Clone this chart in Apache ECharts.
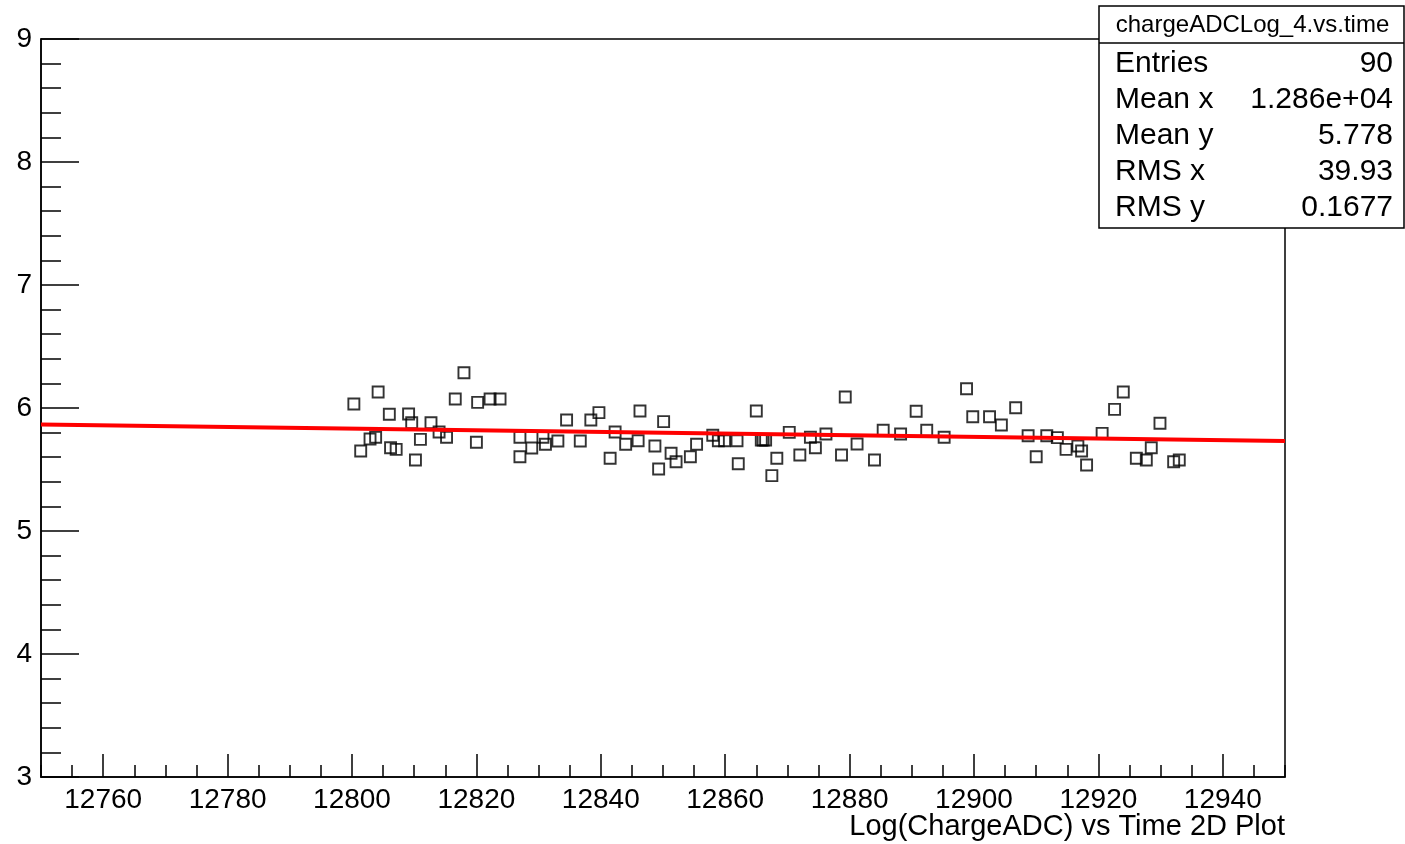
<!DOCTYPE html>
<html><head><meta charset="utf-8">
<script src="https://cdn.jsdelivr.net/npm/echarts@6/dist/echarts.min.js"></script>
<style>html,body{margin:0;padding:0;background:#fff}#c{width:1405px;height:844px}</style>
</head><body><div id="c"></div>
<script>
// Scatter data (time, log charge)
const timeX = [12800.3,12804.2,12806.0,12809.1,12809.6,12818.0,12816.6,12820.2,12822.2,12823.8,
  12812.7,12814.0,12815.2,12802.9,12803.8,12801.4,12806.2,12807.1,12811.0,12810.2,
  12820.0,12827.0,12827.0,12828.9,12830.7,12831.1,12833.1,12834.5,12836.7,12838.4,
  12839.7,12841.5,12842.3,12844.0,12846.0,12846.3,12848.7,12850.1,12851.3,12852.1,
  12849.3,12854.4,12855.4,12858.0,12858.9,12859.9,12861.9,12862.1,12865.0,12865.8,
  12866.5,12866.1,12868.3,12867.5,12870.3,12872.0,12873.7,12874.5,12876.2,12879.3,
  12878.7,12881.2,12884.0,12885.4,12888.2,12890.7,12892.4,12895.2,12898.8,12899.8,
  12902.5,12904.4,12906.7,12908.7,12910.0,12911.7,12913.4,12914.8,12916.7,12917.3,
  12918.1,12920.6,12922.6,12924.0,12926.1,12927.7,12928.5,12929.9,12932.1,12933.0];
const chargeY = [6.033,6.130,5.949,5.951,5.880,6.287,6.073,6.046,6.073,6.073,
  5.880,5.805,5.762,5.748,5.762,5.650,5.677,5.664,5.745,5.577,
  5.721,5.762,5.604,5.675,5.762,5.705,5.732,5.902,5.732,5.902,
  5.962,5.591,5.805,5.705,5.734,5.976,5.691,5.889,5.632,5.563,
  5.504,5.604,5.705,5.778,5.734,5.734,5.734,5.547,5.976,5.740,
  5.740,5.740,5.591,5.450,5.802,5.618,5.762,5.677,5.789,6.089,
  5.618,5.707,5.577,5.819,5.789,5.973,5.819,5.762,6.157,5.929,
  5.929,5.862,6.002,5.775,5.604,5.775,5.759,5.664,5.691,5.650,
  5.537,5.794,5.989,6.130,5.591,5.577,5.677,5.876,5.563,5.577];
// Fit line end points
const fitX = [12750, 12950];
const fitY = [5.865, 5.732];
// Axis ticks
const xMajorTicks = [12760,12780,12800,12820,12840,12860,12880,12900,12920,12940];
const xRange = [12750, 12950];
const yRange = [3, 9];
// Stats box
const statsTitle = 'chargeADCLog_4.vs.time';
const statsNames = ['Entries','Mean x','Mean y','RMS x','RMS y'];
const statsValues = ['90','1.286e+04','5.778','39.93','0.1677'];
const xTitle = 'Log(ChargeADC) vs Time 2D Plot';

const FONT = '"Liberation Sans", Arial, Helvetica, sans-serif';
const chart = echarts.init(document.getElementById('c'), null, {renderer:'canvas'});

const graphics = [];
const bx = 1099, by = 6, bw = 305, bh = 222, titleH = 37;
graphics.push({type:'rect', shape:{x:bx, y:by, width:bw, height:bh}, style:{fill:'#fff', stroke:'#000', lineWidth:1.5}, z:100});
graphics.push({type:'line', shape:{x1:bx, y1:by+titleH, x2:bx+bw, y2:by+titleH}, style:{stroke:'#000', lineWidth:1.5}, z:101});
graphics.push({type:'text', x:bx+bw/2+1, y:by+titleH/2+1, style:{text:statsTitle, font:'24px '+FONT, fill:'#000', textAlign:'center', textVerticalAlign:'middle'}, z:101});
statsNames.forEach((n,i)=>{
  const cy = 64 + 36*i;
  graphics.push({type:'text', x:bx+16, y:cy, style:{text:n, font:'30px '+FONT, fill:'#000', textAlign:'left', textVerticalAlign:'middle'}, z:101});
  graphics.push({type:'text', x:bx+bw-11, y:cy, style:{text:statsValues[i], font:'30px '+FONT, fill:'#000', textAlign:'right', textVerticalAlign:'middle'}, z:101});
});
graphics.push({type:'text', right:120, top:812, style:{text:xTitle, font:'29px '+FONT, fill:'#000'}, z:101});

chart.setOption({
  animation:false,
  backgroundColor:'#fff',
  grid:{left:41, top:39, right:120, bottom:67, show:true, borderColor:'#000', borderWidth:1.5, backgroundColor:'transparent'},
  xAxis:[{
    type:'value', min:xRange[0], max:xRange[1], position:'bottom',
    axisLine:{show:true, lineStyle:{color:'#000', width:1.5}},
    axisTick:{show:true, inside:true, length:23, customValues:xMajorTicks, lineStyle:{color:'#000', width:1.5}},
    axisLabel:{show:true, customValues:xMajorTicks, formatter:v=>String(v), color:'#000', fontSize:28, fontFamily:FONT, margin:9},
    splitLine:{show:false}
  },{
    type:'value', min:xRange[0], max:xRange[1], interval:5, position:'bottom', offset:0,
    axisLine:{show:false},
    axisTick:{show:true, inside:true, length:12, lineStyle:{color:'#000', width:1.5}},
    axisLabel:{show:false},
    splitLine:{show:false}
  }],
  yAxis:{
    type:'value', min:yRange[0], max:yRange[1], interval:1,
    axisLine:{show:true, lineStyle:{color:'#000', width:1.5}},
    axisTick:{show:true, inside:true, length:38, lineStyle:{color:'#000', width:1.5}},
    minorTick:{show:true, splitNumber:5, length:20, lineStyle:{color:'#000', width:1.5}},
    axisLabel:{color:'#000', fontSize:28, fontFamily:FONT, margin:9},
    splitLine:{show:false}, minorSplitLine:{show:false}
  },
  series:[{
    type:'scatter', xAxisIndex:0,
    data: timeX.map((x,i)=>[x, chargeY[i]]),
    symbol:'rect', symbolSize:11,
    itemStyle:{color:'rgba(0,0,0,0)', borderColor:'#000', borderWidth:1.9},
    z:2
  },{
    type:'line', xAxisIndex:0,
    data: fitX.map((x,i)=>[x, fitY[i]]),
    showSymbol:false, symbol:'none',
    lineStyle:{color:'#ff0000', width:4},
    z:3
  }],
  graphic: graphics
});
</script>
</body></html>
